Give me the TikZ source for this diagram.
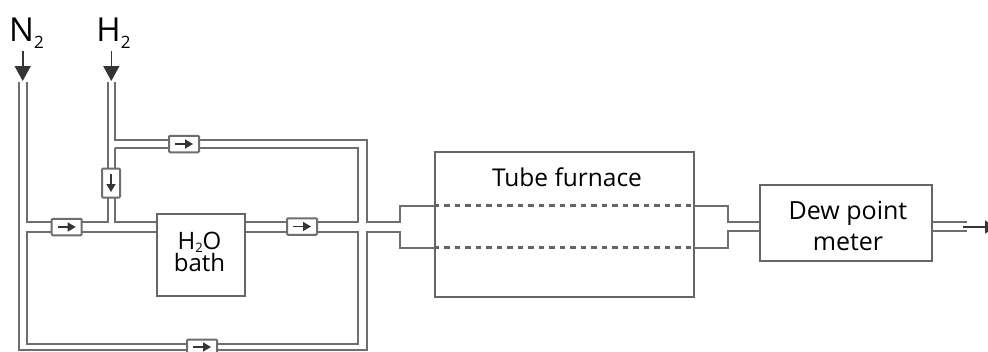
\documentclass[tikz,border=0pt]{standalone}
\usepackage{fontspec}
\setmainfont{Open Sans}
\usetikzlibrary{arrows.meta, calc, positioning}
\definecolor{pipe}{HTML}{6e6e6e}
\definecolor{boxline}{HTML}{666666}
\definecolor{ink}{HTML}{111111}
\newcommand{\lowtwo}{\raisebox{-7pt}{\fontsize{17}{17}\selectfont 2}}
\newcommand{\smalltwo}{\raisebox{-3pt}{\fontsize{13}{13}\selectfont 2}}
\tikzset{
	pipeline/.style={draw=pipe, line width=2pt, line join=miter},
	tubeline/.style={draw=ink!65, line width=2.2pt, dash pattern=on 5.5pt off 5pt},
	unitbox/.style={draw=boxline, line width=2pt, fill=white, inner sep=0pt},
	valvebox/.style={draw=pipe, line width=2pt, fill=white, rounded corners=1pt, minimum width=30pt, minimum height=16.5pt, inner sep=0pt},
	valvetip/.style={draw=ink!85, line width=1.5pt, -{Triangle[length=8pt, width=9pt]}},
	gasarrow/.style={draw=ink!85, line width=1.6pt, -{Triangle[length=15pt, width=16pt]}},
	gaslabel/.style={inner sep=0pt, font=\fontsize{33}{34}\selectfont}
}
\begin{document}
\begin{tikzpicture}[x=1pt, y=-1pt]
	\useasboundingbox (0, 0) rectangle (988, 351);

	% units
	\node[unitbox, minimum width=88pt, minimum height=82pt] (bath) at (200.5, 255) {};
	\node[unitbox, minimum width=259pt, minimum height=145pt] (furnace) at (564, 224.5) {};
	\node[unitbox, minimum width=171.5pt, minimum height=76.5pt] (meter) at (846.2, 223.2) {};
	\node[font=\fontsize{24.5}{25}\selectfont, inner sep=0pt] (furnacetext) at (567, 177) {Tube furnace};
	\node[font=\fontsize{25}{31}\selectfont, inner sep=0pt, align=center] (metertext) at (848, 226) {Dew point\\meter};
	\node[font=\fontsize{24}{21}\selectfont, inner sep=0pt, align=center] (bathtext) at (199.5, 252) {H\smalltwo O\\bath};

	% gas inlets
	\node[gaslabel] (N2) at (26.5, 33) {N\lowtwo};
	\node[gaslabel] (H2) at (113.5, 33) {H\lowtwo};
	\coordinate (N2a) at (18.5, 82);
	\coordinate (N2b) at (27, 82);
	\coordinate (H2a) at (107.5, 82);
	\coordinate (H2b) at (114.5, 82);
	\coordinate (N2tip) at (22.7, 81);
	\coordinate (H2tip) at (111.3, 81);
	\draw[gasarrow] (N2tip |- 0, 51) -- (N2tip);
	\draw[gasarrow] (H2tip |- 0, 51) -- (H2tip);

	% junction points
	\coordinate (TopO) at (366.5, 140);
	\coordinate (TopI) at (358, 148);
	\coordinate (MidU) at (358, 222);
	\coordinate (MidL) at (358, 231.5);
	\coordinate (OutU) at (366.5, 222);
	\coordinate (OutL) at (366.5, 231.5);
	\coordinate (LowI) at (358, 343.5);
	\coordinate (LowO) at (366.5, 350);
	\coordinate (StepU) at (400, 205.5);
	\coordinate (StepL) at (400, 247.5);
	\coordinate (BackU) at (727.5, 205.5);
	\coordinate (BackL) at (727.5, 247.5);
	\coordinate (EndU) at (967, 222);
	\coordinate (EndL) at (967, 231);
	\coordinate (EndTip) at (995, 227);

	% pipes on the left
	\draw[pipeline] (N2a) -- (N2a |- LowO) -- (LowO) -- (OutL) -- (StepL |- OutL) -- (StepL) -- (furnace.west |- StepL);
	\draw[pipeline] (N2b) -- (N2b |- MidU) -- (H2a |- MidU) -- (H2a);
	\draw[pipeline] (H2b) -- (H2b |- TopO) -- (TopO) -- (OutU) -- (StepU |- OutU) -- (StepU) -- (furnace.west |- StepU);
	\draw[pipeline] (H2b |- TopI) -- (H2b |- MidU) -- (bath.west |- MidU);
	\draw[pipeline] (H2b |- TopI) -- (TopI) -- (MidU) -- (bath.east |- MidU);
	\draw[pipeline] (bath.west |- MidL) -- (N2b |- MidL) -- (N2b |- LowI) -- (LowI) -- (MidL) -- (bath.east |- MidL);

	% pipes on the right
	\draw[pipeline] (furnace.east |- BackU) -- (BackU) -- (BackU |- MidU) -- (meter.west |- MidU);
	\draw[pipeline] (furnace.east |- BackL) -- (BackL) -- (BackL |- EndL) -- (meter.west |- EndL);
	\draw[pipeline] (meter.east |- EndU) -- (EndU);
	\draw[pipeline] (meter.east |- EndL) -- (EndL);
	\draw[valvetip, -{Triangle[length=10pt, width=13pt]}] (963, 227) -- (EndTip);

	% tube inside the furnace
	\draw[tubeline] (furnace.west |- StepU) -- (furnace.east |- StepU);
	\draw[tubeline] (furnace.west |- StepL) -- (furnace.east |- StepL);

	% valves
	\node[valvebox] (V1) at (184, 144) {};
	\node[valvebox, minimum width=18pt, minimum height=29pt] (V2) at (111, 183) {};
	\node[valvebox] (V3) at (66.7, 227) {};
	\node[valvebox] (V4) at (302, 226.5) {};
	\node[valvebox, minimum height=22pt] (V5) at (202, 350.5) {};
	\draw[valvetip] ($(V1) + (-9, 0)$) -- ($(V1) + (9, 0)$);
	\draw[valvetip] ($(V2) + (0, -9)$) -- ($(V2) + (0, 9)$);
	\draw[valvetip] ($(V3) + (-9, 0)$) -- ($(V3) + (9, 0)$);
	\draw[valvetip] ($(V4) + (-9, 0)$) -- ($(V4) + (9, 0)$);
	\draw[valvetip] ($(V5) + (-9, -3.5)$) -- ($(V5) + (9, -3.5)$);
\end{tikzpicture}
\end{document}
